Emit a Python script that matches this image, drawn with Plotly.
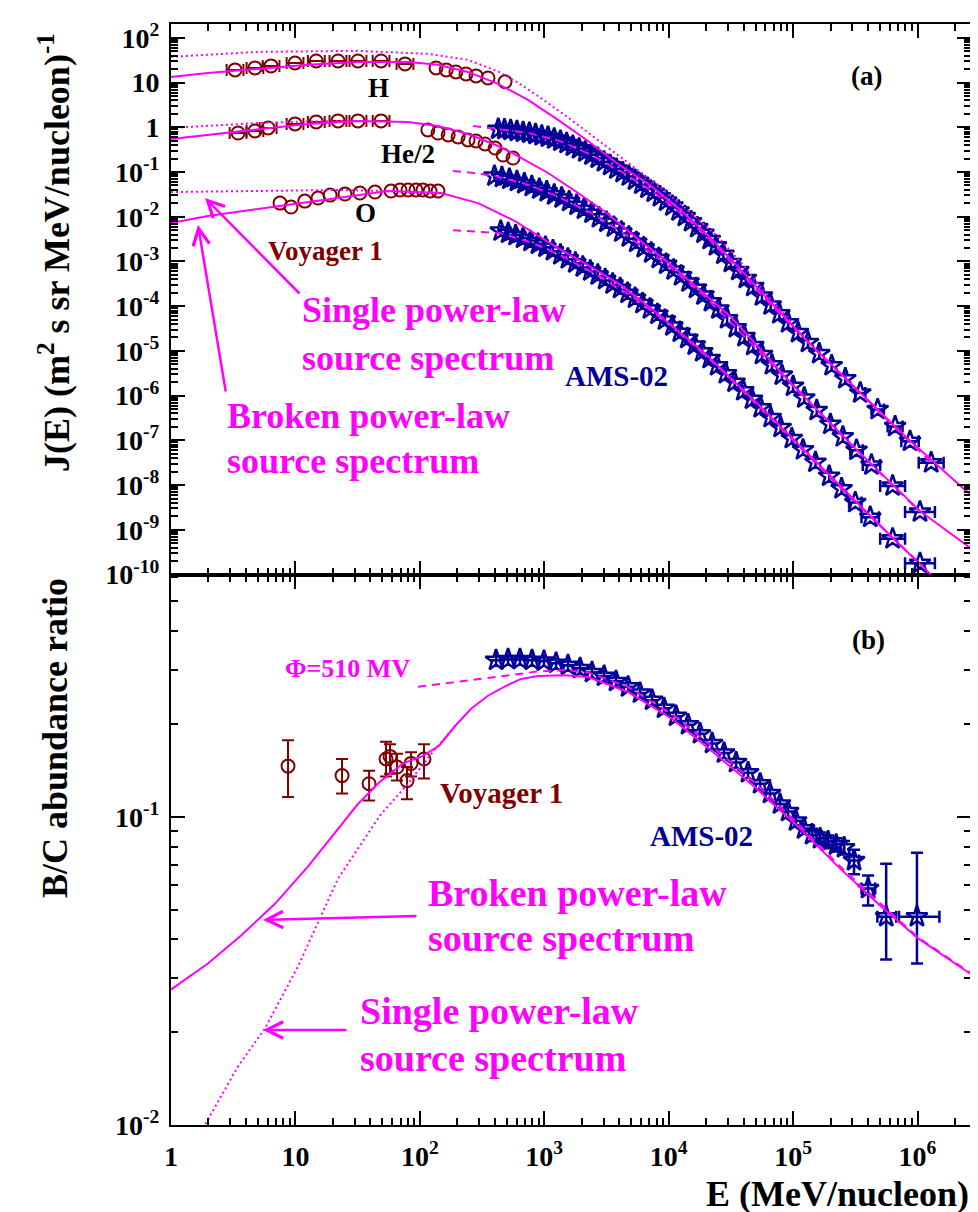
import plotly.graph_objects as go

MAG = "#FF00FF"
VGR = "#800000"
AMS = "#000099"
FONT = "Liberation Serif"

# ================= TOP PANEL DATA =================
# Voyager 1 H (LET, with energy bins) and (HET)
vgr_h_let_e = [3.27, 4.73, 6.37, 9.93, 14.7, 22.0, 31.8, 48.8, 76.0]
vgr_h_let_j = [19.2, 21.3, 23.6, 27.5, 30.5, 30.5, 30.5, 30.5, 26.2]
vgr_h_let_lo = [2.80, 4.05, 5.45, 8.50, 12.6, 18.8, 27.2, 41.8, 65.0]
vgr_h_let_hi = [3.82, 5.52, 7.44, 11.6, 17.2, 25.7, 37.2, 57.0, 88.8]
vgr_h_het_e = [135, 163, 195, 235, 283, 353, 484]
vgr_h_het_j = [21.3, 19.2, 17.3, 15.6, 14.1, 12.7, 10.4]

# Voyager 1 He/2
vgr_he_let_e = [3.46, 4.73, 6.03, 9.93, 14.7, 22.0, 31.8, 48.8]
vgr_he_let_j = [0.746, 0.828, 0.966, 1.19, 1.32, 1.39, 1.39, 1.39]
vgr_he_let_lo = [2.96, 4.05, 5.16, 8.50, 12.6, 18.8, 27.2, 41.8]
vgr_he_let_hi = [4.04, 5.52, 7.05, 11.6, 17.2, 25.7, 37.2, 57.0]
vgr_he_het_e = [116, 140, 169, 203, 244, 283, 334, 403, 467, 561]
vgr_he_het_j = [0.871, 0.746, 0.674, 0.608, 0.521, 0.495, 0.424, 0.344, 0.240, 0.206]

# Voyager 1 O
vgr_o_e = [7.52, 9.22, 11.9, 15.2, 19.0, 25.0, 33.0, 43.6, 58.7, 69.3, 80.4, 93.1, 106, 121, 140]
vgr_o_j = [0.0202, 0.0165, 0.0224, 0.0262, 0.0305, 0.0322, 0.0339, 0.0357, 0.0376,
           0.0396, 0.0396, 0.0396, 0.0396, 0.0376, 0.0376]

# AMS-02 H
ams_h_e = [427, 479, 537, 603, 676, 759, 851, 955, 1072, 1202, 1349, 1514, 1698, 1905, 2138,
           2399, 2692, 3020, 3388, 3802, 4266, 4786, 5370, 6026, 6761, 7586, 8511, 9550,
           10720, 12020, 13490, 15140, 16980, 19050, 21380, 23990, 27540, 31620, 36310,
           41690, 47860, 56230, 66070, 77620, 91200, 109600, 131800, 162200, 204200,
           263000, 346700, 478600, 660700, 871000, 1288000]
ams_h_j = [0.912, 0.891, 0.851, 0.813, 0.776, 0.741, 0.692, 0.646, 0.603, 0.550, 0.490, 0.437,
           0.380, 0.331, 0.282, 0.240, 0.204, 0.170, 0.141, 0.117, 0.0977, 0.0813, 0.0661,
           0.0537, 0.0437, 0.0355, 0.0282, 0.0224, 0.0174, 0.0135, 0.0102, 0.00776, 0.00575,
           0.00427, 0.00309, 0.00224, 0.00145, 0.000955, 0.000631, 0.000417, 0.000275,
           0.000170, 0.000107, 6.76e-5, 4.27e-5, 2.57e-5, 1.55e-5, 8.71e-6, 4.68e-6, 2.40e-6,
           1.15e-6, 4.90e-7, 2.04e-7, 9.55e-8, 3.16e-8]
ams_h_tail_lo = [316200, 426600, 575400, 741300, 1023000]
ams_h_tail_hi = [380200, 537000, 758600, 1023000, 1622000]

# AMS-02 He/2
ams_he_e = [398, 457, 525, 603, 692, 794, 912, 1047, 1202, 1380, 1585, 1820, 2089, 2399, 2754,
            3162, 3631, 4169, 4786, 5495, 6310, 7244, 8318, 9550, 10960, 12590, 14450, 16600,
            19050, 21880, 25120, 29510, 34670, 40740, 47860, 56230, 67610, 81280, 100000,
            123000, 154900, 199500, 251200, 323600, 426600, 631000, 1047000]
ams_he_j = [0.0813, 0.0759, 0.0692, 0.0617, 0.0550, 0.0479, 0.0417, 0.0363, 0.0309, 0.0263,
            0.0219, 0.0182, 0.0148, 0.0120, 0.00955, 0.00759, 0.00589, 0.00457, 0.00355,
            0.00269, 0.00204, 0.00155, 0.00117, 0.000871, 0.000646, 0.000479, 0.000347,
            0.000251, 0.000178, 0.000126, 8.71e-5, 5.25e-5, 3.31e-5, 2.09e-5, 1.32e-5,
            8.32e-6, 4.90e-6, 2.88e-6, 1.62e-6, 8.91e-7, 4.68e-7, 2.29e-7, 1.20e-7, 6.03e-8,
            2.82e-8, 9.55e-9, 2.51e-9]
ams_he_tail_lo = [288400, 363100, 501200, 794300]
ams_he_tail_hi = [363100, 501200, 794300, 1380000]

# AMS-02 O
ams_o_e = [447, 513, 589, 676, 776, 891, 1023, 1175, 1349, 1549, 1778, 2042, 2344, 2692, 3090,
           3548, 4074, 4677, 5370, 6166, 7079, 8128, 9333, 10720, 12300, 14130, 16220, 18620,
           21380, 24550, 28840, 33880, 39810, 46770, 54950, 66070, 79430, 97720, 120200,
           151400, 195000, 245500, 316200, 416900, 631000, 1047000]
ams_o_j = [0.00479, 0.00427, 0.00380, 0.00331, 0.00282, 0.00245, 0.00209, 0.00174, 0.00141,
           0.00115, 0.000933, 0.000759, 0.000617, 0.000501, 0.000398, 0.000316, 0.000251,
           0.000195, 0.000151, 0.000115, 8.71e-5, 6.61e-5, 4.90e-5, 3.63e-5, 2.63e-5, 1.91e-5,
           1.35e-5, 9.55e-6, 6.76e-6, 4.68e-6, 3.09e-6, 2.00e-6, 1.29e-6, 8.32e-7, 5.37e-7,
           3.24e-7, 1.95e-7, 1.10e-7, 6.17e-8, 3.24e-8, 1.58e-8, 8.32e-9, 4.07e-9, 1.91e-9,
           6.31e-10, 1.78e-10]
ams_o_tail_lo = [281800, 354800, 501200, 794300]
ams_o_tail_hi = [354800, 489800, 794300, 1380000]

# Model curves (top panel)
h_broken_e = [1, 1.98, 5.0, 12.6, 31.8, 80.4, 140, 244, 426, 741, 1291, 2249, 3917, 6823,
              11910, 20750, 36140, 62950, 132100, 333400, 839500, 2698000]
h_broken_j = [13.4, 16.4, 20.2, 24.9, 29.0, 29.0, 24.9, 17.3, 9.33, 4.09, 1.46, 0.494, 0.151,
              0.0550, 0.0158, 0.00380, 0.000759, 0.000141, 1.58e-5, 1.32e-6, 1.07e-7, 5.89e-9]
h_single_e = [1, 5.0, 31.8, 116, 244, 426, 615, 891, 1552, 2704, 4721, 8222, 14320, 25120,
              39810, 63100, 100000]
h_single_j = [37.6, 48.6, 51.2, 43.9, 32.1, 17.8, 10.0, 5.01, 1.66, 0.525, 0.166, 0.0501,
              0.0138, 0.00347, 0.000832, 0.000166, 3.98e-5]
h_mod_e = [268, 339, 427, 759, 1349, 2399, 4266, 7586, 13490, 23990, 47860, 109600, 346700,
           1288000]
h_mod_j = [1.07, 1.0, 0.912, 0.741, 0.490, 0.240, 0.0977, 0.0355, 0.0102, 0.00224, 0.000275,
           2.57e-5, 1.15e-6, 3.16e-8]

he_broken_e = [1, 1.98, 5.0, 12.6, 31.8, 80.4, 140, 244, 426, 615, 1074, 1871, 3258, 5675,
               9886, 17220, 31620, 100000, 316200, 1047000, 2698000]
he_broken_j = [0.548, 0.675, 0.918, 1.19, 1.39, 1.32, 1.07, 0.710, 0.382, 0.228, 0.0951,
               0.0339, 0.0115, 0.00316, 0.000955, 0.000251, 5.75e-5, 1.70e-6, 6.61e-8,
               2.63e-9, 3.80e-10]
he_single_e = [1, 1.98, 5.0, 12.6, 31.8]
he_single_j = [0.966, 1.07, 1.25, 1.35, 1.39]
he_mod_e = [185, 269, 398, 692, 1202, 2399, 4786, 9550, 19050, 40740, 100000, 323600, 1047000]
he_mod_j = [0.105, 0.0955, 0.0813, 0.0550, 0.0309, 0.0120, 0.00355, 0.000871, 0.000178,
            2.09e-5, 1.62e-6, 6.03e-8, 2.51e-9]

o_broken_e = [1, 1.98, 5.0, 12.6, 22.0, 55.5, 148, 294, 582, 1291, 2249, 4140, 7079, 18620,
              54950, 195000, 631000, 1585000]
o_broken_j = [0.00723, 0.01035, 0.01486, 0.0213, 0.0262, 0.0376, 0.0339, 0.0202, 0.00800,
              0.00199, 0.000828, 0.000295, 9.33e-5, 1.0e-5, 5.62e-7, 1.66e-8, 6.61e-10,
              5.62e-11]
o_single_e = [1, 5.0, 22.0, 55.5]
o_single_j = [0.0357, 0.0376, 0.0396, 0.0376]
o_mod_e = [185, 288, 447, 776, 1349, 2692, 5370, 10720, 24550, 66070, 245500, 1047000]
o_mod_j = [0.00501, 0.00468, 0.00427, 0.00269, 0.00138, 0.000490, 0.000148, 3.55e-5,
           4.57e-6, 3.16e-7, 8.13e-9, 1.74e-10]

# ================= BOTTOM PANEL DATA (B/C) =================
vgr_bc_e = [8.72, 23.7, 39.1, 53.5, 57.6, 65.6, 78.9, 85.0, 108]
vgr_bc_r = [0.146, 0.136, 0.128, 0.154, 0.157, 0.145, 0.131, 0.149, 0.154]
vgr_bc_hi = [0.177, 0.154, 0.141, 0.175, 0.172, 0.160, 0.145, 0.162, 0.172]
vgr_bc_lo = [0.116, 0.119, 0.113, 0.135, 0.138, 0.131, 0.114, 0.135, 0.133]

ams_bc_e = [410, 512, 638, 798, 995, 1245, 1552, 1941, 2421, 3027, 3776, 4721, 5888, 7362,
            9183, 11460, 14320, 17860, 22340, 27860, 34830, 43450, 54330, 65310, 78520,
            91200, 105700, 122500, 142200, 164800, 191000, 221800, 257000, 309000, 400900,
            560000, 990000]
ams_bc_r = [0.322, 0.324, 0.324, 0.322, 0.320, 0.315, 0.310, 0.303, 0.294, 0.286, 0.275,
            0.264, 0.252, 0.239, 0.225, 0.212, 0.199, 0.186, 0.173, 0.161, 0.150, 0.139,
            0.128, 0.119, 0.110, 0.104, 0.0970, 0.0914, 0.0875, 0.0849, 0.0830, 0.0811,
            0.0794, 0.0721, 0.0585, 0.0474, 0.0474]
ams_bc_tail_up = [0.004, 0.004, 0.004, 0.004, 0.004, 0.006, 0.006, 0.023, 0.029]
ams_bc_tail_dn = [0.004, 0.004, 0.004, 0.004, 0.004, 0.007, 0.007, 0.013, 0.014]
ams_bc_tail_lo = [281800, 354800, 476000, 710000]
ams_bc_tail_hi = [338800, 457100, 673000, 1500000]

bc_broken_e = [1, 1.98, 3.66, 6.85, 12.6, 22.0, 31.8, 47.9, 73.3, 104, 143, 192, 258, 353,
               484, 652, 891, 1442, 2249, 4721, 10840, 23610, 51400, 109600, 230100, 482000,
               1012000, 2698000]
bc_broken_r = [0.0275, 0.0334, 0.0412, 0.0522, 0.0689, 0.0914, 0.110, 0.130, 0.149, 0.157,
               0.170, 0.197, 0.224, 0.247, 0.265, 0.280, 0.286, 0.288, 0.284, 0.254, 0.207,
               0.160, 0.123, 0.0929, 0.0689, 0.0522, 0.0403, 0.0308]
bc_mod_e = [96.8, 169, 294, 512, 891, 1442, 2249, 4721, 10840, 23610, 51400, 109600, 230100,
            482000, 1012000, 2698000]
bc_mod_r = [0.264, 0.272, 0.280, 0.288, 0.296, 0.299, 0.294, 0.264, 0.214, 0.166, 0.127,
            0.0948, 0.0700, 0.0531, 0.0406, 0.0310]
bc_single_e = [1.71, 1.87, 3.46, 5.70, 10.5, 22.0, 47.9, 80.4, 130, 192]
bc_single_r = [0.00908, 0.0100, 0.0155, 0.0206, 0.0327, 0.0630, 0.101, 0.128, 0.164, 0.197]

# ================= helpers =================
TOP = dict(xaxis="x2", yaxis="y2")
BOT = dict(xaxis="x", yaxis="y")


def curve(x, y, dash, where, width=2):
    return go.Scatter(x=x, y=y, mode="lines", hoverinfo="skip",
                      line=dict(color=MAG, width=width, dash=dash), **where)


def tail_err(vals, edges, upper):
    n, k = len(vals), len(edges)
    if upper:
        return [0] * (n - k) + [h - v for v, h in zip(vals[-k:], edges)]
    return [0] * (n - k) + [v - l for v, l in zip(vals[-k:], edges)]


def tail_pad(vals, errs):
    return [0] * (len(vals) - len(errs)) + list(errs)


STAR = dict(symbol="star-open", size=16, color=AMS, line=dict(color=AMS, width=2.5))
CIRC = dict(symbol="circle-open", size=13, color=VGR, line=dict(color=VGR, width=2))

fig = go.Figure()

DOT = "2px,3px"
DASH = "8px,6px"

# ---- AMS top ----
for e, j, lo, hi in [(ams_h_e, ams_h_j, ams_h_tail_lo, ams_h_tail_hi),
                     (ams_he_e, ams_he_j, ams_he_tail_lo, ams_he_tail_hi),
                     (ams_o_e, ams_o_j, ams_o_tail_lo, ams_o_tail_hi)]:
    fig.add_trace(go.Scatter(
        x=e, y=j, mode="markers", hoverinfo="skip", marker=STAR,
        error_x=dict(type="data", symmetric=False, array=tail_err(e, hi, True),
                     arrayminus=tail_err(e, lo, False), color=AMS, thickness=2.5, width=6),
        **TOP))

# ---- Voyager top ----
for e, j, lo, hi in [(vgr_h_let_e, vgr_h_let_j, vgr_h_let_lo, vgr_h_let_hi),
                     (vgr_he_let_e, vgr_he_let_j, vgr_he_let_lo, vgr_he_let_hi)]:
    fig.add_trace(go.Scatter(
        x=e, y=j, mode="markers", hoverinfo="skip", marker=CIRC,
        error_x=dict(type="data", symmetric=False,
                     array=[h - v for v, h in zip(e, hi)],
                     arrayminus=[v - l for v, l in zip(e, lo)],
                     color=VGR, thickness=2, width=6),
        **TOP))
for e, j in [(vgr_h_het_e, vgr_h_het_j), (vgr_he_het_e, vgr_he_het_j), (vgr_o_e, vgr_o_j)]:
    fig.add_trace(go.Scatter(x=e, y=j, mode="markers", hoverinfo="skip", marker=CIRC, **TOP))

# ---- top panel curves (drawn over the points) ----
for e, j in [(h_single_e, h_single_j), (he_single_e, he_single_j), (o_single_e, o_single_j)]:
    fig.add_trace(curve(e, j, DOT, TOP))
for e, j in [(h_mod_e, h_mod_j), (he_mod_e, he_mod_j), (o_mod_e, o_mod_j)]:
    fig.add_trace(curve(e, j, DASH, TOP))
for e, j in [(h_broken_e, h_broken_j), (he_broken_e, he_broken_j), (o_broken_e, o_broken_j)]:
    fig.add_trace(curve(e, j, "solid", TOP))

# ---- bottom panel points ----
fig.add_trace(go.Scatter(
    x=ams_bc_e, y=ams_bc_r, mode="markers", hoverinfo="skip", marker=STAR,
    error_x=dict(type="data", symmetric=False, array=tail_err(ams_bc_e, ams_bc_tail_hi, True),
                 arrayminus=tail_err(ams_bc_e, ams_bc_tail_lo, False),
                 color=AMS, thickness=2.5, width=6),
    error_y=dict(type="data", symmetric=False, array=tail_pad(ams_bc_r, ams_bc_tail_up),
                 arrayminus=tail_pad(ams_bc_r, ams_bc_tail_dn), color=AMS, thickness=2.5,
                 width=6),
    **BOT))

fig.add_trace(go.Scatter(
    x=vgr_bc_e, y=vgr_bc_r, mode="markers", hoverinfo="skip", marker=CIRC,
    error_y=dict(type="data", symmetric=False,
                 array=[h - v for v, h in zip(vgr_bc_r, vgr_bc_hi)],
                 arrayminus=[v - l for v, l in zip(vgr_bc_r, vgr_bc_lo)],
                 color=VGR, thickness=2, width=6),
    **BOT))

# ---- bottom panel curves ----
fig.add_trace(curve(bc_single_e, bc_single_r, DOT, BOT))
fig.add_trace(curve(bc_mod_e, bc_mod_r, DASH, BOT))
fig.add_trace(curve(bc_broken_e, bc_broken_r, "solid", BOT))

# ================= axes =================
tickfont = dict(family=FONT, size=28, color="black", weight="bold")


def sup(k):
    if k == 0:
        return "<b>1</b>"
    if k == 1:
        return "<b>10</b>"
    return "<b>10<sup>%d</sup></b>" % k


x_major = [10 ** k for k in range(0, 7)]
x_minor = [m * 10 ** k for k in range(0, 7) for m in range(2, 10)]
y2_major = [10.0 ** k for k in range(-10, 3)]
y2_minor = [m * 10.0 ** k for k in range(-10, 3) for m in range(2, 10)]
y_major = [0.01, 0.1]
y_minor = [m * 10.0 ** k for k in (-2, -1) for m in range(2, 10)]

common = dict(type="log", showline=True, linecolor="black", linewidth=2, mirror="allticks",
              ticks="inside", ticklen=14, tickwidth=2, tickcolor="black", showgrid=False,
              zeroline=False, tickfont=tickfont, tickmode="array")


def minor(vals):
    return dict(ticks="inside", ticklen=7, tickwidth=1.5, tickcolor="black",
                tickmode="array", tickvals=vals, showgrid=False)


fig.update_layout(
    width=978, height=1212,
    margin=dict(l=163, r=15, t=16, b=95),
    paper_bgcolor="white", plot_bgcolor="white", showlegend=False,
    xaxis=dict(**common, range=[0, 6.43], domain=[0, 1], anchor="y",
               tickvals=x_major, ticktext=[sup(k) for k in range(0, 7)],
               minor=minor(x_minor), ticklabelstandoff=5),
    xaxis2=dict(**common, range=[0, 6.43], domain=[0, 1], anchor="y2", matches="x",
                tickvals=x_major, ticktext=[""] * 7, showticklabels=False,
                minor=minor(x_minor)),
    yaxis=dict(**common, range=[-2, -0.214], domain=[0, 0.5], anchor="x",
               tickvals=y_major, ticktext=[sup(-2), sup(-1)], minor=minor(y_minor),
               ticklabelstandoff=4),
    yaxis2=dict(**common, range=[-10, 2.31], domain=[0.5, 1], anchor="x2",
                tickvals=y2_major, ticktext=[sup(k) for k in range(-10, 3)],
                minor=minor(y2_minor), ticklabelstandoff=4),
)

# ================= annotations =================
W, PH = 800.0, 1101.0


def px(xp, yp):
    return (xp - 163.0) / W, (1117.0 - yp) / PH


def text(t, xp, yp, size, color, xanchor="left", angle=0, yanchor="middle"):
    x, y = px(xp, yp)
    fig.add_annotation(text="<b>%s</b>" % t, x=x, y=y, xref="paper", yref="paper",
                       showarrow=False, xanchor=xanchor, yanchor=yanchor, textangle=angle,
                       font=dict(family=FONT, size=size, color=color, weight="bold"))


def arrow(tail, head):
    x, y = px(*head)
    fig.add_annotation(text="", x=x, y=y, xref="paper", yref="paper", showarrow=True,
                       ax=tail[0] - head[0], ay=tail[1] - head[1], axref="pixel",
                       ayref="pixel", arrowhead=5, arrowsize=1.3, arrowwidth=2.5,
                       arrowcolor=MAG, standoff=0)


# top panel
text("H", 370, 80, 27, "black", "center")
text("He/2", 400, 146, 27, "black", "center")
text("O", 357, 205, 27, "black", "center")
text("Voyager 1", 258, 243, 27, VGR)
text("(a)", 858, 68, 27, "black", "center")
text("Single power-law", 292, 302, 36, MAG)
text("source spectrum", 292, 350, 36, MAG)
text("Broken power-law", 217, 408, 36, MAG)
text("source spectrum", 217, 453, 36, MAG)
text("AMS-02", 555, 368, 29, AMS)
arrow((293, 287), (197, 190))
arrow((218, 385), (190, 217))

# bottom panel
text("Φ=510 MV", 275, 660, 26, MAG)
text("(b)", 860, 632, 27, "black", "center")
text("Voyager 1", 430, 785, 29, VGR)
text("AMS-02", 640, 828, 29, AMS)
text("Broken power-law", 418, 885, 38, MAG)
text("source spectrum", 418, 930, 38, MAG)
text("Single power-law", 350, 1003, 38, MAG)
text("source spectrum", 350, 1050, 38, MAG)
arrow((410, 908), (255, 912))
arrow((340, 1022), (255, 1022))

# axis titles
text("J(E) (m<sup>2</sup> s sr MeV/nucleon)<sup>-1</sup>", 47, 245, 36, "black", "center", -90)
text("B/C abundance ratio", 47, 730, 36, "black", "center", -90)
text("E (MeV/nucleon)", 963, 1186, 36, "black", "right")

fig.write_html("out.html")
